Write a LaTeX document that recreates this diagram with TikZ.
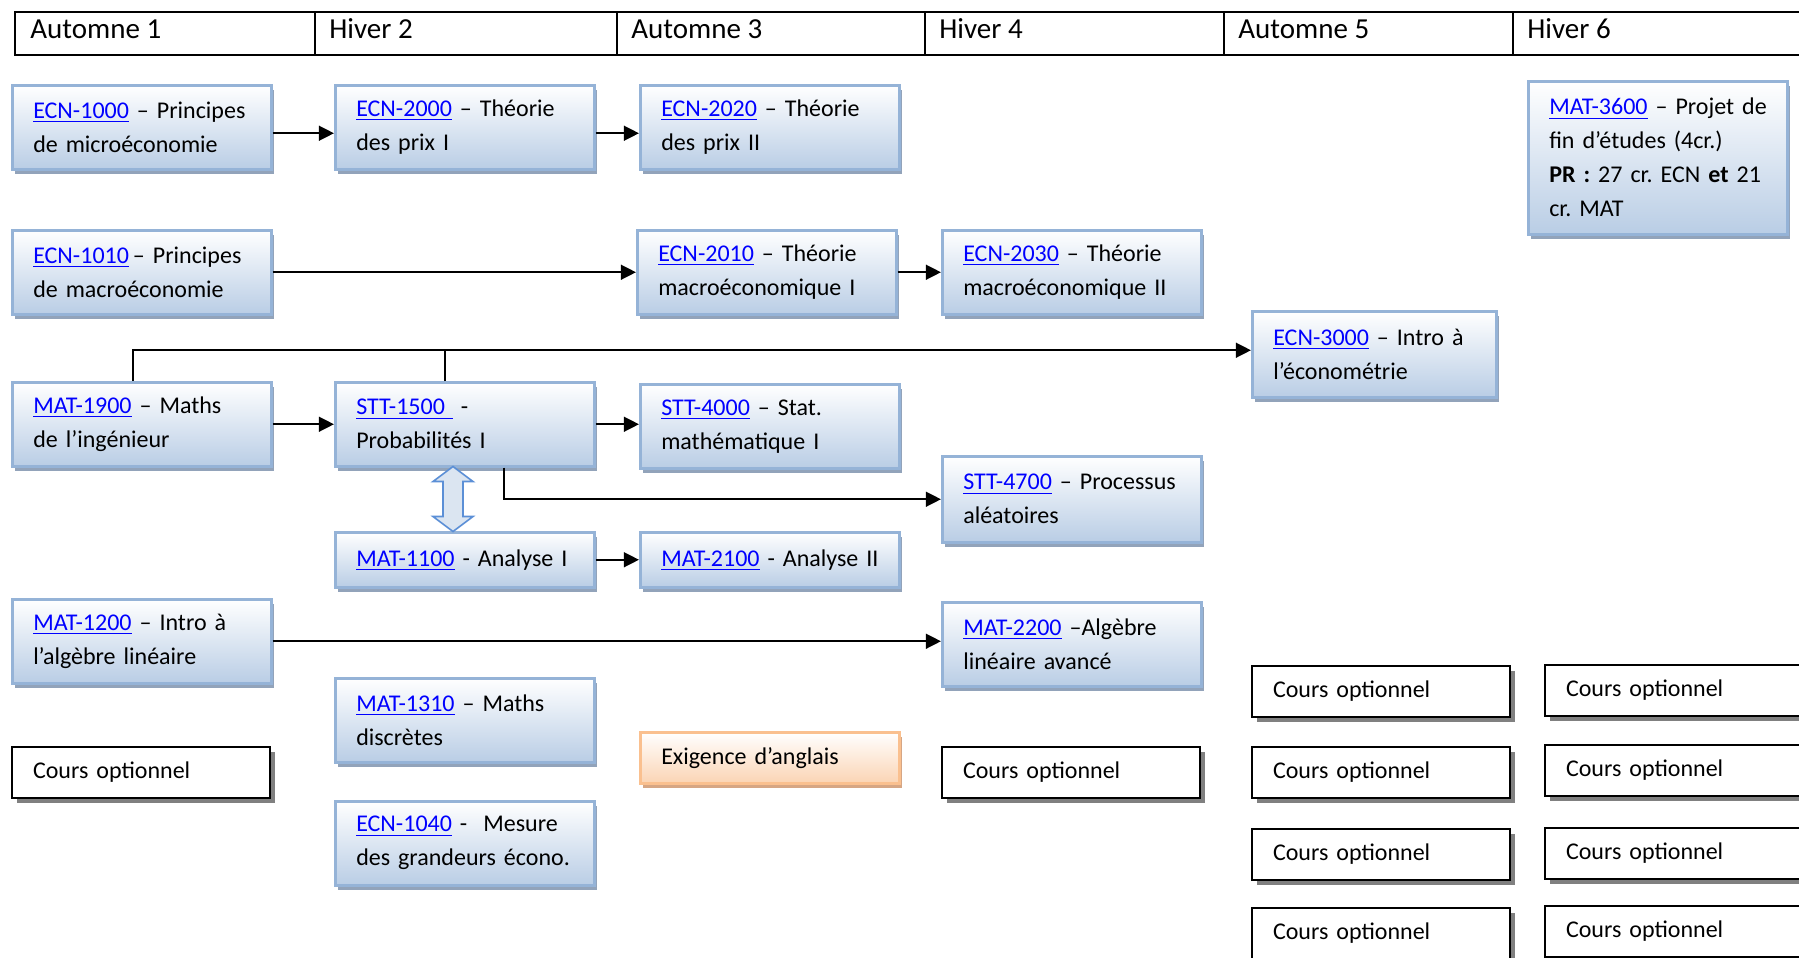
\documentclass[tikz,border=0pt]{standalone}
\usepackage{fontspec}
\setmainfont{Carlito}
\usetikzlibrary{arrows.meta,shadows,calc}
\frenchspacing
\definecolor{bxbottom}{RGB}{185,205,229}
\definecolor{bxborder}{RGB}{149,179,215}
\definecolor{bxshadow}{RGB}{146,163,186}
\definecolor{linkblue}{RGB}{0,0,255}
\definecolor{orborder}{RGB}{250,192,143}
\definecolor{orbottom}{RGB}{251,212,180}
\definecolor{orshadow}{RGB}{214,166,132}
\definecolor{optshadow}{RGB}{128,128,128}
\definecolor{dblfill}{RGB}{219,229,241}
\definecolor{dbldraw}{RGB}{91,143,214}
\newcommand\coursefont{\fontsize{12pt}{17pt}\selectfont}
\newcommand\hdfont{\fontsize{14.5pt}{17pt}\selectfont}
\newcommand\clink[1]{\textcolor{linkblue}{\underline{#1}}}
\begin{document}
\begin{tikzpicture}[x=0.5pt,y=-0.5pt,
  cbox/.style={draw=bxborder, line width=1.25pt, top color=white, bottom color=bxbottom,
    drop shadow={shadow xshift=1.5pt, shadow yshift=-2.5pt, fill=bxshadow, opacity=1},
    anchor=north west, inner xsep=10.5pt, inner ysep=0pt, align=left, font=\coursefont,
    minimum height=42pt, minimum width=129.5pt, text width=108.5pt},
  orbox/.style={cbox, draw=orborder, bottom color=orbottom,
    drop shadow={shadow xshift=1.5pt, shadow yshift=-2.5pt, fill=orshadow, opacity=1},
    minimum height=25.5pt},
  obox/.style={draw=black, line width=1pt, fill=white,
    drop shadow={shadow xshift=2.5pt, shadow yshift=-2.5pt, fill=optshadow, opacity=1},
    anchor=north west, inner xsep=10.5pt, inner ysep=0pt, align=left, font=\coursefont,
    minimum height=25.5pt, minimum width=129pt, text width=108pt},
  hcell/.style={draw=black, line width=1pt, anchor=north west, minimum height=21.5pt, inner sep=0pt},
  htext/.style={anchor=base west, font=\hdfont, inner sep=0pt},
  conn/.style={line width=1.2pt, -{Triangle[length=7.6pt,width=7.4pt]}},
  plain/.style={line width=1.2pt},
  dbl/.style={draw=dbldraw, fill=dblfill, line width=0.8pt, line join=miter}
]
\useasboundingbox (0,0) rectangle (1799,958);

% header
\node[hcell, minimum width=150pt] (h1) at (14,11) {};
\node[hcell, minimum width=151pt] (h2) at (314,11) {};
\node[hcell, minimum width=154pt] (h3) at (616,11) {};
\node[hcell, minimum width=149.5pt] (h4) at (924,11) {};
\node[hcell, minimum width=144.5pt] (h5) at (1223,11) {};
\node[hcell, minimum width=150pt] (h6) at (1512,11) {};
\node[htext] (t1) at (30,39) {Automne 1};
\node[htext] (t2) at (329,39) {Hiver 2};
\node[htext] (t3) at (631,39) {Automne 3};
\node[htext] (t4) at (939,39) {Hiver 4};
\node[htext] (t5) at (1238,39) {Automne 5};
\node[htext] (t6) at (1527,39) {Hiver 6};

% course boxes
\node[cbox] (ecn1000) at (11,84) {\mbox{\clink{ECN-1000} – Principes}\\\mbox{de microéconomie}};
\node[cbox] (ecn2000) at (334,84) {\mbox{\clink{ECN-2000} – Théorie}\\\mbox{des prix I}};
\node[cbox] (ecn2020) at (639,84) {\mbox{\clink{ECN-2020} – Théorie}\\\mbox{des prix II}};
\node[cbox, minimum height=76.5pt] (mat3600) at (1527,80) {\mbox{\clink{MAT-3600} – Projet de}\\\mbox{fin d’études (4cr.)}\\\mbox{\textbf{PR :} 27 cr. ECN \textbf{et} 21}\\\mbox{cr. MAT}};

\node[cbox] (ecn1010) at (11,229) {\mbox{\clink{ECN-1010}\,– Principes}\\\mbox{de macroéconomie}};
\node[cbox] (ecn2010) at (636,229) {\mbox{\clink{ECN-2010} – Théorie}\\\mbox{macroéconomique I}};
\node[cbox] (ecn2030) at (941,229) {\mbox{\clink{ECN-2030} – Théorie}\\\mbox{macroéconomique II}};
\node[cbox, minimum width=122pt, text width=101pt, minimum height=43pt] (ecn3000) at (1251,310) {\mbox{\clink{ECN-3000} – Intro à}\\\mbox{l’économétrie}};

\node[cbox] (mat1900) at (11,381) {\mbox{\clink{MAT-1900} – Maths}\\\mbox{de l’ingénieur}};
\node[cbox] (stt1500) at (334,381) {\mbox{\clink{STT-1500\ }\ -}\\\mbox{Probabilités I}};
\node[cbox] (stt4000) at (639,383) {\mbox{\clink{STT-4000} – Stat.}\\\mbox{mathématique I}};
\node[cbox, minimum height=43pt] (stt4700) at (941,455) {\mbox{\clink{STT-4700} – Processus}\\\mbox{aléatoires}};

\node[cbox, minimum height=27.5pt] (mat1100) at (334,531) {\mbox{\clink{MAT-1100} - Analyse I}};
\node[cbox, minimum height=27.5pt] (mat2100) at (639,531) {\mbox{\clink{MAT-2100} - Analyse II}};

\node[cbox] (mat1200) at (11,598) {\mbox{\clink{MAT-1200} – Intro à}\\\mbox{l’algèbre linéaire}};
\node[cbox] (mat2200) at (941,601) {\mbox{\clink{MAT-2200} –Algèbre}\\\mbox{linéaire avancé}};

\node[cbox] (mat1310) at (334,677) {\mbox{\clink{MAT-1310} – Maths}\\\mbox{discrètes}};
\node[cbox] (ecn1040) at (334,800) {\mbox{\clink{ECN-1040} -~ Mesure}\\\mbox{des grandeurs écono.}};
\node[orbox] (exig) at (639,731) {\mbox{Exigence d’anglais}};

% optional courses
\node[obox] (opt1) at (11,746) {Cours optionnel};
\node[obox] (opt4) at (941,746) {Cours optionnel};
\node[obox] (opt5a) at (1251,665) {Cours optionnel};
\node[obox] (opt5b) at (1251,746) {Cours optionnel};
\node[obox] (opt5c) at (1251,828) {Cours optionnel};
\node[obox] (opt5d) at (1251,907) {Cours optionnel};
\node[obox] (opt6a) at (1544,664) {Cours optionnel};
\node[obox] (opt6b) at (1544,744) {Cours optionnel};
\node[obox] (opt6c) at (1544,827) {Cours optionnel};
\node[obox] (opt6d) at (1544,905) {Cours optionnel};

% connectors
\draw[conn] ($(ecn1000.east)+(0,6)$) -- ($(ecn2000.west)+(0,6)$);
\draw[conn] ($(ecn2000.east)+(0,6)$) -- ($(ecn2020.west)+(0,6)$);
\draw[conn] (ecn1010.east) -- (ecn2010.west);
\draw[conn] (ecn2010.east) -- (ecn2030.west);
\draw[conn] (mat1900.east) -- (stt1500.west);
\draw[conn] (stt1500.east) -- (stt1500.east -| stt4000.west);
\draw[conn] (mat1100.east) -- (mat2100.west);
\draw[conn] (mat1200.east) -- (mat1200.east -| mat2200.west);
\coordinate (m19top) at ($(mat1900.north west)+(122,0)$);
\coordinate (s15top) at ($(stt1500.north west)+(111,0)$);
\coordinate (e30in) at ($(ecn3000.west)+(0,-4)$);
\draw[conn] (m19top) |- (e30in);
\draw[plain] (s15top) -- (s15top |- e30in);
\coordinate (s15bot) at ($(stt1500.south west)+(170,0)$);
\draw[conn] (s15bot) |- (stt4700.west);

% double arrow STT-1500 <-> MAT-1100
\coordinate (dt) at ($(stt1500.south west)+(119,-1)$);
\draw[dbl] (dt) -- ++(20,15) -- ++(-10,0) -- ++(0,35) -- ++(10,0) -- ++(-20,15)
  -- ++(-20,-15) -- ++(10,0) -- ++(0,-35) -- ++(-10,0) -- cycle;
\end{tikzpicture}
\end{document}
